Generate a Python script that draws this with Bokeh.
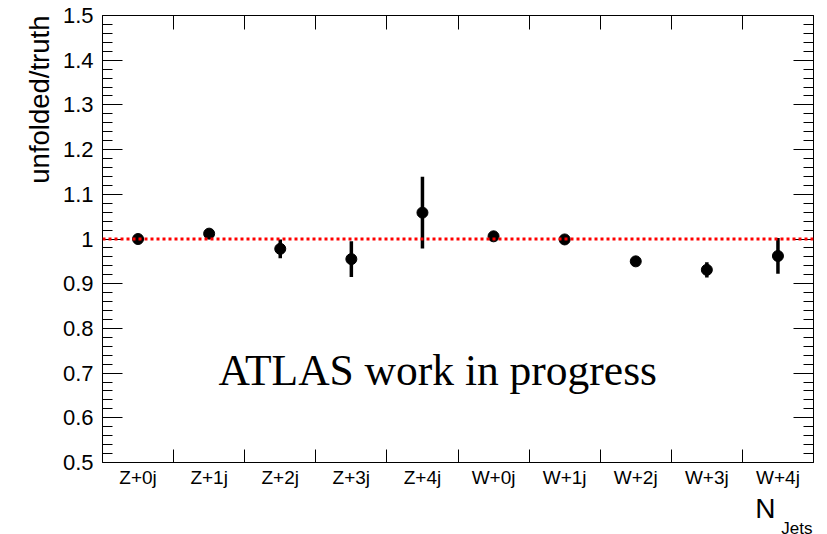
import numpy as np
from bokeh.plotting import figure
from bokeh.models import (Range1d, LinearAxis, FixedTicker, Span, Label, Title,
                          ColumnDataSource)
from bokeh.embed import file_html
from bokeh.resources import INLINE

# ---- data ----
categories = ["Z+0j", "Z+1j", "Z+2j", "Z+3j", "Z+4j",
              "W+0j", "W+1j", "W+2j", "W+3j", "W+4j"]
ratio = [1.000, 1.012, 0.978, 0.955, 1.059, 1.006, 0.999, 0.950, 0.931, 0.962]
err = [0.005, 0.011, 0.021, 0.040, 0.080, 0.004, 0.004, 0.004, 0.017, 0.040]
y_ticks = [0.5, 0.6, 0.7, 0.8, 0.9, 1.0, 1.1, 1.2, 1.3, 1.4, 1.5]
y_tick_labels = ["0.5", "0.6", "0.7", "0.8", "0.9", "1", "1.1", "1.2", "1.3", "1.4", "1.5"]
reference_value = 1.0

n = len(categories)
xc = [i + 0.5 for i in range(n)]
bounds = [float(i) for i in range(1, n)]
lo = [r - e for r, e in zip(ratio, err)]
hi = [r + e for r, e in zip(ratio, err)]
src = ColumnDataSource(dict(x=xc, y=ratio, lo=lo, hi=hi))

SANS = "Liberation Sans"
W, H = 819, 534

p = figure(width=W, height=H, output_backend="svg", toolbar_location=None,
           x_range=Range1d(0, n), y_range=Range1d(0.5, 1.5),
           x_axis_location=None, y_axis_location=None,
           min_border_left=102, min_border_right=6, min_border_top=15,
           min_border_bottom=72)
p.outline_line_color = "black"
p.outline_line_width = 1
p.background_fill_color = "white"
p.border_fill_color = "white"
for g in p.grid:
    g.visible = False

minor_y = [round(v, 2) for v in np.arange(0.5, 1.5001, 0.02)]
yticker = FixedTicker(ticks=y_ticks, minor_ticks=minor_y)

left = LinearAxis(ticker=yticker)
left.major_label_overrides = {t: l for t, l in zip(y_ticks, y_tick_labels)}
left.major_tick_in = 20
left.major_tick_out = 0
left.minor_tick_in = 10
left.minor_tick_out = 0
left.axis_line_color = None
left.major_tick_line_color = "black"
left.minor_tick_line_color = "black"
left.major_label_text_font = SANS
left.major_label_text_font_size = "22px"
left.major_label_text_color = "black"
left.major_label_standoff = 9
p.add_layout(left, "left")

right = LinearAxis(ticker=yticker)
right.major_tick_in = 20
right.major_tick_out = 0
right.minor_tick_in = 10
right.minor_tick_out = 0
right.axis_line_color = None
right.major_tick_line_color = "black"
right.minor_tick_line_color = "black"
right.major_label_text_font_size = "0px"
right.major_label_standoff = 0
p.add_layout(right, "right")

xticker = FixedTicker(ticks=xc, minor_ticks=bounds)
bottom = LinearAxis(ticker=xticker)
bottom.major_label_overrides = {x: c for x, c in zip(xc, categories)}
bottom.major_tick_in = 0
bottom.major_tick_out = 0
bottom.minor_tick_in = 13
bottom.minor_tick_out = 0
bottom.axis_line_color = None
bottom.minor_tick_line_color = "black"
bottom.major_label_text_font = SANS
bottom.major_label_text_font_size = "19px"
bottom.major_label_text_color = "black"
bottom.major_label_standoff = 4
p.add_layout(bottom, "below")

top = LinearAxis(ticker=xticker)
top.major_tick_in = 0
top.major_tick_out = 0
top.minor_tick_in = 14
top.minor_tick_out = 0
top.axis_line_color = None
top.minor_tick_line_color = "black"
top.major_label_text_font_size = "0px"
top.major_label_standoff = 0
p.add_layout(top, "above")

p.add_layout(Span(location=reference_value, dimension="width", line_color="#ff0000",
                  line_width=3, line_dash="3 3"))

p.segment(x0="x", y0="lo", x1="x", y1="hi", source=src, line_color="black",
          line_width=3.5)
p.scatter(x="x", y="y", source=src, size=11, fill_color="black", line_color="black")

p.add_layout(Label(x=1.63, y=0.708, text="ATLAS work in progress",
                   text_font="Liberation Serif", text_font_size="43.5px",
                   text_color="black", text_align="left", text_baseline="alphabetic"))

# axis titles as side-panel titles
p.add_layout(Title(text="unfolded/truth", align="right", text_font=SANS,
                   text_font_size="27.5px", text_font_style="normal",
                   text_color="black", standoff=10, offset=0), "left")
p.add_layout(Title(text="N", align="right", text_font=SANS,
                   text_font_size="28px", text_font_style="normal",
                   text_color="black", standoff=0, offset=38), "below")
p.add_layout(Title(text="Jets", align="right", text_font=SANS,
                   text_font_size="17px", text_font_style="normal",
                   text_color="black", standoff=-14, offset=1), "below")

open("out.html", "w").write(file_html(p, INLINE))
